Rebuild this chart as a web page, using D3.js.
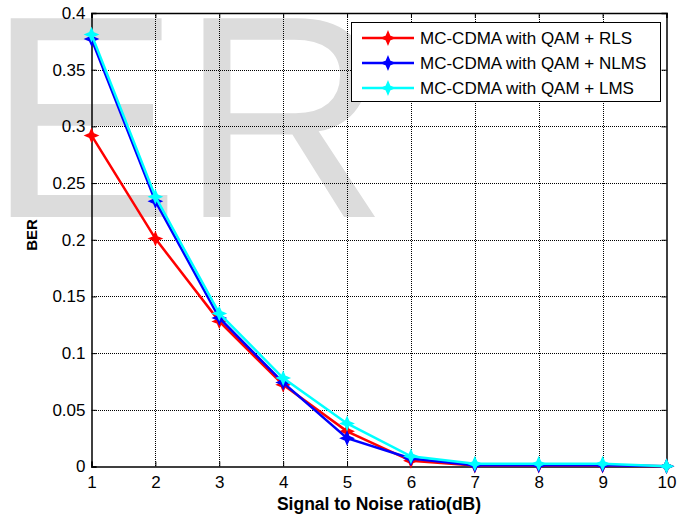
<!DOCTYPE html>
<html lang="en">
<head>
    <meta charset="UTF-8">
    <title>BER vs SNR</title>
    <style>
        body { margin: 0; background: #fff; }
        svg { display: block; font-family: "Liberation Sans", Arial, sans-serif; }
    </style>
</head>
<body>
    <div id="graphic"></div>

    <script src="https://cdn.jsdelivr.net/npm/d3@7"></script>
    <script>
        var width = 686;
        var height = 514;

        // data
        var snr = [1, 2, 3, 4, 5, 6, 7, 8, 9, 10];
        var berRLS  = [0.292, 0.201, 0.128, 0.072, 0.031, 0.005, 0.0008, 0.0008, 0.0008, 0.0002];
        var berNLMS = [0.377, 0.234, 0.131, 0.074, 0.025, 0.007, 0.001, 0.001, 0.001, 0.0002];
        var berLMS  = [0.381, 0.238, 0.135, 0.078, 0.038, 0.009, 0.0025, 0.0025, 0.0025, 0.0003];
        var seriesNames = ['MC-CDMA with QAM + RLS', 'MC-CDMA with QAM + NLMS', 'MC-CDMA with QAM + LMS'];
        var seriesColors = ['#ff0000', '#0000ff', '#00ffff'];
        var yTicks = [0, 0.05, 0.1, 0.15, 0.2, 0.25, 0.3, 0.35, 0.4];

        drawChart();

        function drawChart() {
            var series = [berRLS, berNLMS, berLMS].map(function(vals, i) {
                return {
                    name: seriesNames[i],
                    color: seriesColors[i],
                    points: vals.map(function(v, j) { return {x: snr[j], y: v}; })
                };
            });

            var pLeft = 91.5, pRight = 666.5, pTop = 13, pBottom = 466.5;

            var x = d3.scaleLinear().domain([1, 10]).range([pLeft, pRight]);
            var y = d3.scaleLinear().domain([0, 0.4]).range([pBottom, pTop]);

            var svg = d3.select('#graphic')
                .append('svg')
                .attr('width', width)
                .attr('height', height);

            svg.append('rect').attr('width', width).attr('height', height).attr('fill', '#fff');

            // big gray watermark behind everything
            svg.append('text')
                .attr('x', -13)
                .attr('y', 217)
                .attr('font-size', 289)
                .attr('fill', '#dcdcdc')
                .text('ER');

            // grid
            var grid = svg.append('g')
                .attr('stroke', '#000')
                .attr('stroke-width', 1)
                .attr('stroke-dasharray', '1,1');

            grid.selectAll('.vg')
                .data(snr.slice(1, -1))
                .join('line')
                .attr('x1', function(d) { return Math.round(x(d)) + 0.5; })
                .attr('x2', function(d) { return Math.round(x(d)) + 0.5; })
                .attr('y1', pTop)
                .attr('y2', pBottom);

            grid.selectAll('.hg')
                .data(yTicks.slice(1, -1))
                .join('line')
                .attr('y1', function(d) { return Math.round(y(d)) + 0.5; })
                .attr('y2', function(d) { return Math.round(y(d)) + 0.5; })
                .attr('x1', Math.round(pLeft))
                .attr('x2', pRight);

            // axes with inward ticks, box style
            var fs = 17;
            var xAxis = svg.append('g')
                .attr('transform', 'translate(0,' + pBottom + ')')
                .call(d3.axisBottom(x).tickValues(snr).tickSize(-5).tickPadding(9));
            var yAxis = svg.append('g')
                .attr('transform', 'translate(' + pLeft + ',0)')
                .call(d3.axisLeft(y).tickValues(yTicks).tickSize(-5).tickPadding(6)
                    .tickFormat(function(d) { return d3.format('~g')(d); }));
            var xTop = svg.append('g')
                .attr('transform', 'translate(0,' + pTop + ')')
                .call(d3.axisTop(x).tickValues(snr).tickSize(-5).tickFormat(''));
            var yRight = svg.append('g')
                .attr('transform', 'translate(' + pRight + ',0)')
                .call(d3.axisRight(y).tickValues(yTicks).tickSize(-5).tickFormat(''));

            [xAxis, yAxis, xTop, yRight].forEach(function(a) {
                a.select('.domain').attr('stroke', '#000').attr('stroke-width', 1.5);
                a.selectAll('.tick line').attr('stroke', '#000');
                a.selectAll('.tick text')
                    .attr('font-size', fs)
                    .attr('font-family', '"Liberation Sans", Arial, sans-serif')
                    .attr('fill', '#000');
            });

            // lines
            var line = d3.line()
                .x(function(d) { return x(d.x); })
                .y(function(d) { return y(d.y); });

            var marker = 'M0,-6 L1.8,-1.8 L6,0 L1.8,1.8 L0,6 L-1.8,1.8 L-6,0 L-1.8,-1.8 Z';

            series.forEach(function(s) {
                svg.append('path')
                    .datum(s.points)
                    .attr('fill', 'none')
                    .attr('stroke', s.color)
                    .attr('stroke-width', 2.5)
                    .attr('d', line);

                svg.selectAll(null)
                    .data(s.points)
                    .join('path')
                    .attr('transform', function(d) { return 'translate(' + x(d.x) + ',' + y(d.y) + ')'; })
                    .attr('d', marker)
                    .attr('fill', s.color)
                    .attr('stroke', s.color)
                    .attr('stroke-width', 1.5);
            });

            // legend
            var lg = svg.append('g');
            lg.append('rect')
                .attr('x', 351.5).attr('y', 22.5)
                .attr('width', 309).attr('height', 79)
                .attr('fill', '#fff')
                .attr('stroke', '#000')
                .attr('stroke-width', 1);

            series.forEach(function(s, i) {
                var ly = 38 + i * 25;
                lg.append('line')
                    .attr('x1', 362).attr('x2', 414)
                    .attr('y1', ly).attr('y2', ly)
                    .attr('stroke', s.color)
                    .attr('stroke-width', 2.5);
                lg.append('path')
                    .attr('transform', 'translate(388,' + ly + ')')
                    .attr('d', marker)
                    .attr('fill', s.color)
                    .attr('stroke', s.color)
                    .attr('stroke-width', 1.5);
                lg.append('text')
                    .attr('x', 420)
                    .attr('y', ly)
                    .attr('dy', '0.35em')
                    .attr('font-size', 17)
                    .text(s.name);
            });

            // axis titles
            svg.append('text')
                .attr('x', 379)
                .attr('y', 510)
                .attr('text-anchor', 'middle')
                .attr('font-weight', 'bold')
                .attr('font-size', 17.5)
                .text('Signal to Noise ratio(dB)');

            svg.append('text')
                .attr('transform', 'translate(37,235) rotate(-90)')
                .attr('text-anchor', 'middle')
                .attr('font-weight', 'bold')
                .attr('font-size', 15)
                .text('BER');
        }
    </script>
</body>
</html>
